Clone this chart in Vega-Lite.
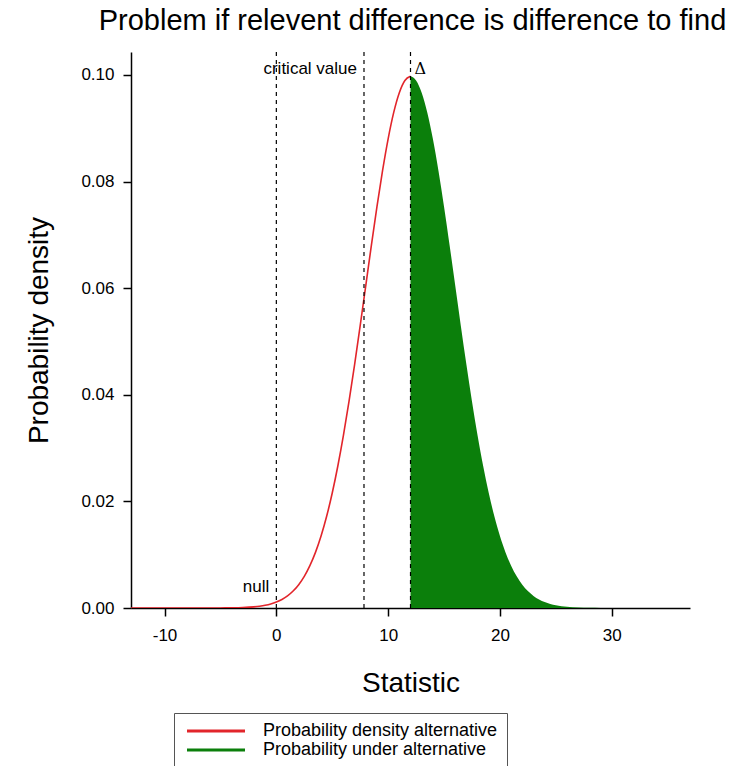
{
  "$schema": "https://vega.github.io/schema/vega-lite/v6.json",
  "width": 559,
  "height": 556,
  "autosize": "none",
  "padding": {"left": 131, "top": 52, "right": 41, "bottom": 158},
  "background": "white",
  "title": {
    "text": "Problem if relevent difference is difference to find",
    "font": "Liberation Sans",
    "fontSize": 29,
    "fontWeight": "normal",
    "color": "black",
    "anchor": "middle",
    "dx": 2,
    "offset": 15
  },
  "config": {
    "view": {"stroke": null},
    "font": "Liberation Sans",
    "axis": {
      "domainColor": "black",
      "domainWidth": 1.5,
      "tickColor": "black",
      "tickWidth": 1.5,
      "tickSize": 8,
      "labelFont": "Liberation Sans",
      "labelFontSize": 17,
      "labelColor": "black",
      "titleFont": "Liberation Sans",
      "titleFontWeight": "normal",
      "titleColor": "black",
      "grid": false
    }
  },
  "datasets": {
    "curve": [
      {"x": -13, "d": 0},
      {"x": -10, "d": 0.00000003},
      {"x": -8, "d": 0.00000037},
      {"x": -6, "d": 0.000004},
      {"x": -5, "d": 0.000012},
      {"x": -4, "d": 0.0000335},
      {"x": -3, "d": 0.0000882},
      {"x": -2, "d": 0.000218},
      {"x": -1.5, "d": 0.000335},
      {"x": -1, "d": 0.000507},
      {"x": -0.5, "d": 0.000755},
      {"x": 0, "d": 0.00111},
      {"x": 0.5, "d": 0.0016},
      {"x": 1, "d": 0.00227},
      {"x": 1.5, "d": 0.00318},
      {"x": 2, "d": 0.00438},
      {"x": 2.5, "d": 0.00594},
      {"x": 3, "d": 0.00794},
      {"x": 3.5, "d": 0.01043},
      {"x": 4, "d": 0.0135},
      {"x": 4.5, "d": 0.0172},
      {"x": 5, "d": 0.02157},
      {"x": 5.5, "d": 0.02664},
      {"x": 6, "d": 0.03238},
      {"x": 6.5, "d": 0.03876},
      {"x": 7, "d": 0.04566},
      {"x": 7.5, "d": 0.05297},
      {"x": 8, "d": 0.06049},
      {"x": 8.5, "d": 0.06802},
      {"x": 9, "d": 0.07529},
      {"x": 9.5, "d": 0.08204},
      {"x": 10, "d": 0.08802},
      {"x": 10.5, "d": 0.09297},
      {"x": 11, "d": 0.09667},
      {"x": 11.5, "d": 0.09896},
      {"x": 12, "d": 0.09974},
      {"x": 12.5, "d": 0.09896},
      {"x": 13, "d": 0.09667},
      {"x": 13.5, "d": 0.09297},
      {"x": 14, "d": 0.08802},
      {"x": 14.5, "d": 0.08204},
      {"x": 15, "d": 0.07529},
      {"x": 15.5, "d": 0.06802},
      {"x": 16, "d": 0.06049},
      {"x": 16.5, "d": 0.05297},
      {"x": 17, "d": 0.04566},
      {"x": 17.5, "d": 0.03876},
      {"x": 18, "d": 0.03238},
      {"x": 18.5, "d": 0.02664},
      {"x": 19, "d": 0.02157},
      {"x": 19.5, "d": 0.0172},
      {"x": 20, "d": 0.0135},
      {"x": 20.5, "d": 0.01043},
      {"x": 21, "d": 0.00794},
      {"x": 21.5, "d": 0.00594},
      {"x": 22, "d": 0.00438},
      {"x": 22.5, "d": 0.00318},
      {"x": 23, "d": 0.00227},
      {"x": 23.5, "d": 0.0016},
      {"x": 24, "d": 0.00111},
      {"x": 24.5, "d": 0.000755},
      {"x": 25, "d": 0.000507},
      {"x": 25.5, "d": 0.000335},
      {"x": 26, "d": 0.000218},
      {"x": 27, "d": 0.0000882},
      {"x": 28, "d": 0.0000335},
      {"x": 29, "d": 0.000012},
      {"x": 30, "d": 0.000004},
      {"x": 32, "d": 0.00000037},
      {"x": 34, "d": 0.00000003},
      {"x": 37, "d": 0}
    ],
    "vlines": [{"x": 0}, {"x": 7.84}, {"x": 12}],
    "rlabels": [
      {"x": 0, "y": 0.0039, "label": "null"},
      {"x": 7.84, "y": 0.1012, "label": "critical value"}
    ],
    "llabels": [{"x": 12, "y": 0.1012, "label": "Δ"}]
  },
  "encoding": {
    "x": {
      "field": "x",
      "type": "quantitative",
      "scale": {"domain": [-13, 37], "nice": false, "zero": false},
      "axis": {
        "title": "Statistic",
        "titleFontSize": 28,
        "values": [-10, 0, 10, 20, 30],
        "labelExpr": "'' + datum.value",
        "labelPadding": 11,
        "titlePadding": 26
      }
    }
  },
  "layer": [
    {
      "data": {"name": "curve"},
      "transform": [{"filter": "datum.x <= 12"}],
      "mark": {"type": "line", "strokeWidth": 1.6, "interpolate": "monotone", "clip": true},
      "encoding": {
        "y": {
          "field": "d",
          "type": "quantitative",
          "scale": {"domain": [0, 0.1043], "nice": false},
          "axis": {
            "title": "Probability density",
            "titleFontSize": 28,
            "values": [0, 0.02, 0.04, 0.06, 0.08, 0.1],
            "format": ".2f",
            "labelPadding": 9,
            "titlePadding": 27
          }
        },
        "color": {
          "datum": "Probability density alternative",
          "type": "nominal",
          "scale": {
            "domain": ["Probability density alternative", "Probability under alternative"],
            "range": ["#e2252b", "#0b7f0b"]
          },
          "legend": {
            "title": null,
            "orient": "none",
            "legendX": 43,
            "legendY": 661,
            "symbolType": "M-5.8,0H5.8",
            "symbolSize": 100,
            "symbolStrokeWidth": 3,
            "symbolOffset": 24,
            "labelFont": "Liberation Sans",
            "labelFontSize": 18,
            "labelColor": "black",
            "labelLimit": 400,
            "labelOffset": 38,
            "strokeColor": "#555555",
            "padding": 9,
            "rowPadding": 1,
            "encode": {
              "symbols": {"update": {"stroke": {"scale": "color", "field": "value"}, "fill": {"value": "transparent"}}}
            }
          }
        }
      }
    },
    {
      "data": {"name": "curve"},
      "transform": [{"filter": "datum.x >= 12"}],
      "mark": {"type": "area", "interpolate": "monotone", "clip": true},
      "encoding": {
        "y": {"field": "d", "type": "quantitative"},
        "color": {"datum": "Probability under alternative", "type": "nominal"}
      }
    },
    {
      "data": {"name": "vlines"},
      "mark": {"type": "rule", "color": "black", "strokeWidth": 1.2, "strokeDash": [4, 4]},
      "encoding": {}
    },
    {
      "data": {"name": "rlabels"},
      "mark": {"type": "text", "align": "right", "baseline": "middle", "dx": -7, "fontSize": 17, "font": "Liberation Sans", "color": "black"},
      "encoding": {
        "y": {"field": "y", "type": "quantitative"},
        "text": {"field": "label"}
      }
    },
    {
      "data": {"name": "llabels"},
      "mark": {"type": "text", "align": "left", "baseline": "middle", "dx": 4, "fontSize": 16, "font": "DejaVu Serif", "color": "black"},
      "encoding": {
        "y": {"field": "y", "type": "quantitative"},
        "text": {"field": "label"}
      }
    }
  ]
}
